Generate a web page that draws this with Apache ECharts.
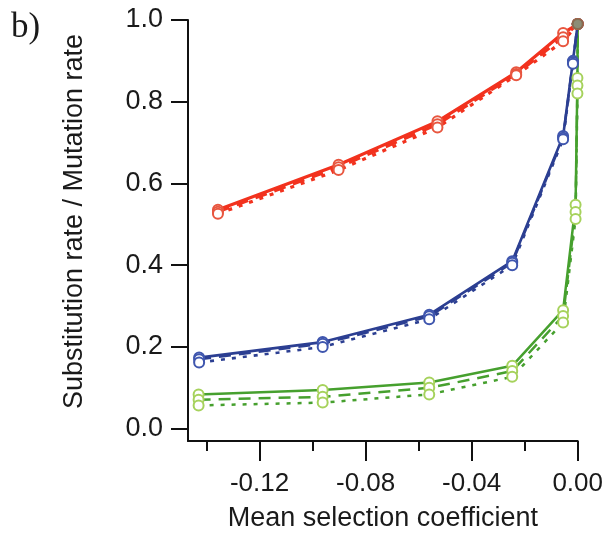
<!DOCTYPE html>
<html>
<head>
<meta charset="utf-8">
<script src="https://cdn.jsdelivr.net/npm/echarts@6/dist/echarts.min.js"></script>
<style>
html,body{margin:0;padding:0;background:#fff;}
#chart{width:606px;height:537px;}
</style>
</head>
<body>
<div id="chart"></div>
<script>
// ---- data ----
const redX = [-0.1357, -0.0902, -0.0529, -0.0232, -0.0055, 0];
const redSolid  = [0.536, 0.646, 0.752, 0.872, 0.968, 0.99];
const redDashed = [0.531, 0.640, 0.745, 0.868, 0.958, 0.99];
const redDotted = [0.526, 0.633, 0.737, 0.865, 0.948, 0.99];

const blueX = [-0.1428, -0.0962, -0.0560, -0.0247, -0.0055, -0.0018, 0];
const blueSolid  = [0.174, 0.212, 0.279, 0.410, 0.716, 0.900, 0.99];
const blueDashed = [0.170, 0.208, 0.275, 0.406, 0.712, 0.897, 0.99];
const blueDotted = [0.162, 0.200, 0.268, 0.400, 0.708, 0.893, 0.99];

const greenX = [-0.1430, -0.0962, -0.0560, -0.0247, -0.0055, -0.0008, -0.0001, 0];
const greenSolid  = [0.084, 0.095, 0.113, 0.154, 0.290, 0.548, 0.858, 0.99];
const greenDashed = [0.071, 0.078, 0.100, 0.141, 0.276, 0.530, 0.840, 0.99];
const greenDotted = [0.057, 0.064, 0.084, 0.127, 0.260, 0.513, 0.820, 0.99];

const topX = [0];
const topY = [0.99];

const yTicks = [0, 0.2, 0.4, 0.6, 0.8, 1.0];
const xMajorTicks = [-0.12, -0.08, -0.04, 0];
const xMinorTicks = [-0.14, -0.10, -0.06, -0.02];

const xTitle = 'Mean selection coefficient';
const yTitle = 'Substitution rate / Mutation rate';
const panelLabel = 'b)';

// ---- build ----
function pairs(xs, ys) { return xs.map((x, i) => [x, ys[i]]); }

const FONT = '"Liberation Sans", Arial, sans-serif';
const colors = {
  red:   { line: '#f2321e', mark: '#e8563f', w: 3.2 },
  blue:  { line: '#2c3f92', mark: '#3f56ae', w: 2.6 },
  green: { line: '#46a02e', mark: '#a6d25c', w: 2.5 }
};
const styles = { solid: 'solid', dashed: [12, 8], dotted: [4, 7] };

function mk(name, xs, ys, c, type) {
  return {
    name: name, type: 'line', data: pairs(xs, ys),
    symbol: 'emptyCircle', symbolSize: 10, showSymbol: true,
    lineStyle: { color: c.line, width: c.w, type: styles[type] },
    itemStyle: { color: c.mark, borderColor: c.mark, borderWidth: 1.2 },
    emphasis: { disabled: true },
    animation: false, z: 3
  };
}

const series = [
  mk('green solid', greenX, greenSolid, colors.green, 'solid'),
  mk('green dashed', greenX, greenDashed, colors.green, 'dashed'),
  mk('green dotted', greenX, greenDotted, colors.green, 'dotted'),
  mk('blue solid', blueX, blueSolid, colors.blue, 'solid'),
  mk('blue dashed', blueX, blueDashed, colors.blue, 'dashed'),
  mk('blue dotted', blueX, blueDotted, colors.blue, 'dotted'),
  mk('red solid', redX, redSolid, colors.red, 'solid'),
  mk('red dashed', redX, redDashed, colors.red, 'dashed'),
  mk('red dotted', redX, redDotted, colors.red, 'dotted'),
  {
    name: 'top', type: 'scatter', data: pairs(topX, topY),
    symbol: 'circle', symbolSize: 12,
    itemStyle: { color: '#6f7155' }, z: 5, animation: false
  }
];

const chart = echarts.init(document.getElementById('chart'), null, { renderer: 'canvas' });
chart.setOption({
  backgroundColor: '#ffffff',
  animation: false,
  grid: { left: 188, right: 28, top: 20, bottom: 94, containLabel: false },
  graphic: [{
    type: 'text', left: 11, top: 10,
    style: { text: panelLabel, font: '35px "Liberation Serif", "Times New Roman", serif', fill: '#1a1a1a' }
  }],
  xAxis: [{
    type: 'value', position: 'bottom', min: -0.147, max: 0,
    axisLine: { show: true, onZero: false, lineStyle: { color: '#111', width: 2 } },
    axisTick: { show: true, customValues: xMajorTicks, length: 20, lineStyle: { color: '#111', width: 2 } },
    axisLabel: { show: true, customValues: xMajorTicks, margin: 30, fontSize: 26, fontFamily: FONT, color: '#1a1a1a',
      formatter: v => (Math.abs(v) < 1e-9 ? 0 : v).toFixed(2) },
    splitLine: { show: false },
    name: xTitle, nameLocation: 'middle', nameGap: 64,
    nameTextStyle: { fontSize: 27, fontFamily: FONT, color: '#1a1a1a' }
  }, {
    type: 'value', position: 'bottom', min: -0.147, max: 0,
    axisLine: { show: false, onZero: false },
    axisTick: { show: true, customValues: xMinorTicks, length: 10, lineStyle: { color: '#111', width: 2 } },
    axisLabel: { show: false },
    splitLine: { show: false }
  }],
  yAxis: [{
    type: 'value', position: 'left', min: -0.03, max: 1.0,
    axisLine: { show: true, onZero: false, lineStyle: { color: '#111', width: 2 } },
    axisTick: { show: true, customValues: yTicks, length: 17, lineStyle: { color: '#111', width: 2 } },
    axisLabel: { show: true, customValues: yTicks, margin: 25, fontSize: 27, fontFamily: FONT, color: '#1a1a1a',
      formatter: v => v.toFixed(1) },
    splitLine: { show: false },
    name: yTitle, nameLocation: 'middle', nameGap: 100,
    nameTextStyle: { fontSize: 27, fontFamily: FONT, color: '#1a1a1a', padding: [0, 0, 0, 18] }
  }],
  series: series
});
</script>
</body>
</html>
